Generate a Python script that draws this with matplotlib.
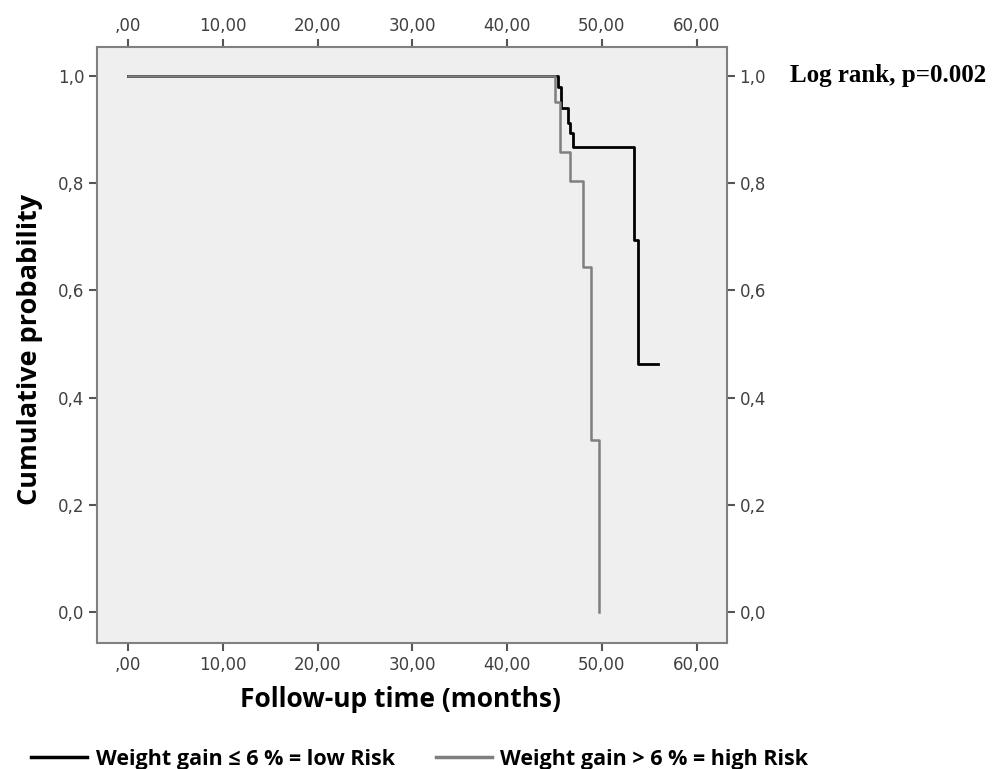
import matplotlib.pyplot as plt
from matplotlib.lines import Line2D

# Kaplan-Meier step points (months, cumulative probability)
low_time = [0.0, 45.4, 45.7, 46.4, 46.6, 46.97, 53.4, 53.8, 55.9]
low_prob = [1.0, 0.980, 0.940, 0.912, 0.893, 0.868, 0.694, 0.463, 0.463]

high_time = [0.0, 45.0, 45.6, 46.6, 48.0, 48.9, 49.7, 49.7]
high_prob = [1.0, 0.952, 0.858, 0.805, 0.643, 0.321, 0.0, 0.0]

x_ticks = [0, 10, 20, 30, 40, 50, 60]
x_labels = [',00', '10,00', '20,00', '30,00', '40,00', '50,00', '60,00']
y_ticks = [0.0, 0.2, 0.4, 0.6, 0.8, 1.0]
y_labels = ['0,0', '0,2', '0,4', '0,6', '0,8', '1,0']

fig = plt.figure(figsize=(9.92, 7.69), dpi=100)
ax = fig.add_axes([0.0978, 0.1638, 0.635, 0.775])
ax.set_facecolor('#efefef')

ax.step(low_time, low_prob, where='post', color='black', lw=2.0)
ax.step(high_time, high_prob, where='post', color='#7f7f7f', lw=1.8)

ax.set_xlim(-3.3, 63.2)
ax.set_ylim(-0.058, 1.054)
ax.set_xticks(x_ticks)
ax.set_xticklabels(x_labels)
ax.set_yticks(y_ticks)
ax.set_yticklabels(y_labels)
ax.tick_params(top=True, right=True, labeltop=True, labelright=True,
               direction='out', length=6, width=1.5, color='#555555',
               labelcolor='#404040', labelsize=12, pad=3)

for s in ax.spines.values():
    s.set_color('#808080')
    s.set_linewidth(1.5)

ax.set_xlabel('Follow-up time (months)', family='Open Sans', fontweight='bold',
              fontsize=19)
ax.set_ylabel('Cumulative probability', family='Open Sans', fontweight='bold',
              fontsize=19.5)
ax.xaxis.set_label_coords(0.481, -0.072)
ax.yaxis.set_label_coords(-0.085, 0.492)

fig.text(0.796, 0.902, 'Log rank, p=0.002', family='Liberation Serif',
         fontweight='bold', fontsize=18, va='center')

handles = [Line2D([], [], color='black', lw=2.5),
           Line2D([], [], color='#7f7f7f', lw=2.5)]
fig.legend(handles, ['Weight gain ≤ 6 % = low Risk', 'Weight gain > 6 % = high Risk'],
           loc='lower left', bbox_to_anchor=(0.012, -0.026), ncol=2, frameon=False,
           handlelength=2.6, handletextpad=0.4, columnspacing=1.9,
           prop={'family': 'Open Sans', 'weight': 'bold', 'size': 15.5})

fig.savefig('out.png', dpi=100)
